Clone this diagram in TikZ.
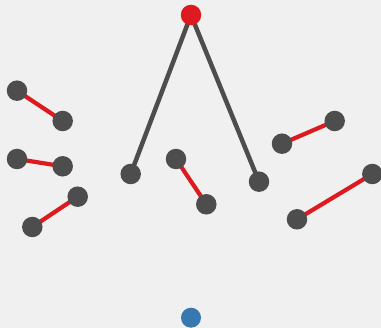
\documentclass[tikz,border=0pt]{standalone}
\usetikzlibrary{backgrounds}
\definecolor{bg}{HTML}{F0F0F0}
\definecolor{nodegray}{HTML}{4D4D4D}
\definecolor{linkred}{HTML}{DC1A1F}
\definecolor{rootred}{HTML}{DC1A1F}
\definecolor{leafblue}{HTML}{3778B0}
\begin{document}
\begin{tikzpicture}[x=1pt,y=-1pt,
  dot/.style={circle,fill=nodegray,inner sep=0pt,minimum size=20.5pt},
  rootdot/.style={circle,fill=rootred,inner sep=0pt,minimum size=20.5pt},
  bluedot/.style={circle,fill=leafblue,inner sep=0pt,minimum size=20pt},
  redlink/.style={draw=linkred,line width=4.2pt},
  graylink/.style={draw=nodegray,line width=4.5pt}]
\useasboundingbox (0,0) rectangle (381,328);
\node[rootdot] (top) at (191,15) {};
\node[bluedot] (bot) at (191,317.7) {};
\node[dot] (a1) at (17,90.7) {};
\node[dot] (a2) at (62.7,121) {};
\node[dot] (b1) at (17,159) {};
\node[dot] (b2) at (62.7,166.3) {};
\node[dot] (c1) at (77.7,196.7) {};
\node[dot] (c2) at (32.3,227) {};
\node[dot] (l) at (130.7,174) {};
\node[dot] (m1) at (176,159) {};
\node[dot] (m2) at (206.3,204.3) {};
\node[dot] (r) at (259,181.7) {};
\node[dot] (d1) at (334.7,121) {};
\node[dot] (d2) at (282,143.7) {};
\node[dot] (e1) at (372.3,174) {};
\node[dot] (e2) at (297,219.3) {};
\begin{pgfonlayer}{background}
\fill[bg] (0,0) rectangle (381,328);
\path[graylink] (l.center) -- (top.center) -- (r.center);
\path[redlink] (a1.center) -- (a2.center);
\path[redlink] (b1.center) -- (b2.center);
\path[redlink] (c1.center) -- (c2.center);
\path[redlink] (m1.center) -- (m2.center);
\path[redlink] (d1.center) -- (d2.center);
\path[redlink] (e1.center) -- (e2.center);
\end{pgfonlayer}
\end{tikzpicture}
\end{document}
